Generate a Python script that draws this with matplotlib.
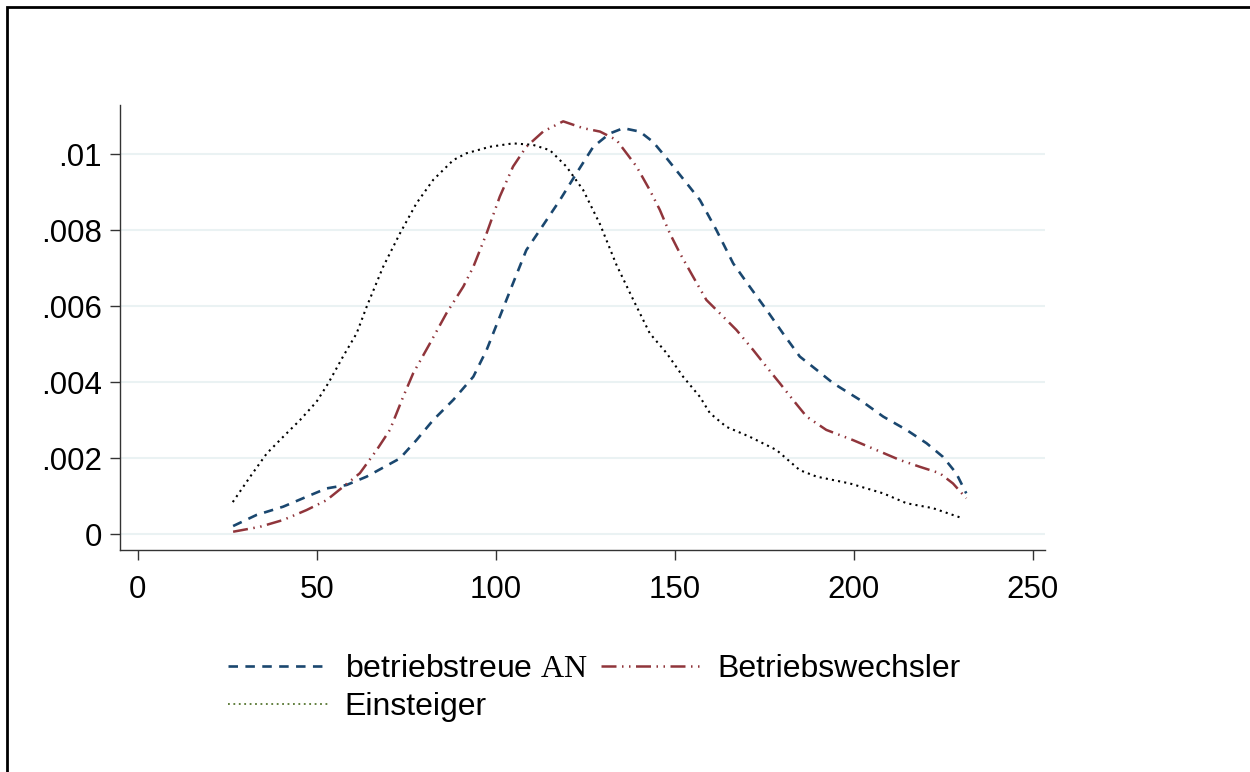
import matplotlib
matplotlib.use("Agg")
import matplotlib.pyplot as plt
from matplotlib.lines import Line2D
from matplotlib.patches import Rectangle

plt.rcParams['font.family'] = ['Liberation Sans', 'DejaVu Sans']
plt.rcParams['mathtext.fontset'] = 'custom'
plt.rcParams['mathtext.rm'] = 'Liberation Serif'

# kernel density estimates
x_treu = [26.6, 33.1, 40.6, 47.1, 52.7, 58.3, 63.9, 73.2, 77.8, 82.5, 88.1, 93.7,
          97.4, 101.1, 104.8, 108.5, 112.3, 117.9, 122.5, 127.2, 131.8, 135.6, 140.2,
          143.9, 147.7, 153.3, 157.0, 161.6, 166.3, 170.9, 175.6, 180.2, 184.9, 189.6,
          194.2, 201.7, 208.2, 214.7, 220.3, 224.9, 228.6, 231.4]
y_treu = [.00021, .0005, .00072, .00098, .0012, .00129, .00151, .00199, .00247, .003,
          .00353, .00414, .00484, .00572, .0066, .00747, .008, .00879, .00949, .01019,
          .01054, .01068, .01059, .01032, .00989, .00923, .00879, .008, .00712, .00651,
          .0059, .00528, .00467, .00432, .00397, .00353, .00309, .00274, .00239, .00203,
          .0016, .00107]

x_wechsler = [26.6, 34.1, 40.6, 47.1, 52.7, 57.3, 62.0, 66.7, 70.4, 74.1, 76.9, 81.6,
              86.2, 90.9, 93.7, 97.4, 101.1, 104.8, 108.5, 113.2, 118.8, 124.4, 129.1,
              133.7, 139.3, 143.0, 145.8, 148.6, 151.4, 155.1, 158.8, 163.5, 167.2,
              171.9, 175.6, 179.3, 183.0, 186.8, 192.3, 199.8, 206.3, 212.8, 218.4,
              224.0, 227.7, 231.4]
y_wechsler = [.00006, .00019, .00037, .00063, .00089, .00124, .0016, .00221, .00274,
              .00361, .00423, .00502, .00581, .00651, .00703, .00791, .00888, .00967,
              .01019, .01059, .01086, .01068, .01059, .01037, .00967, .00905, .00853,
              .00791, .00739, .00677, .00616, .00572, .00537, .00484, .0044, .00397,
              .00353, .00309, .00274, .00247, .00221, .00195, .00177, .0016, .00133,
              .00094]

x_einsteiger = [26.5, 31.3, 36.0, 40.6, 45.3, 49.9, 53.2, 57.3, 61.1, 63.9, 68.5, 73.2,
                77.8, 82.5, 88.1, 91.8, 98.3, 104.8, 110.4, 115.1, 119.7, 124.4, 129.1,
                133.7, 138.4, 143.0, 147.7, 152.3, 157.0, 159.8, 164.4, 170.9, 178.4,
                184.9, 189.6, 198.9, 208.2, 214.7, 222.1, 230.5]
y_einsteiger = [.00084, .0015, .00212, .00256, .003, .00348, .00397, .00467, .00528,
                .00598, .00703, .00791, .0087, .00932, .00984, .01002, .01019, .01028,
                .01024, .0101, .00967, .00905, .00815, .00708, .00616, .00528, .00476,
                .00414, .00361, .00318, .00282, .00256, .00221, .00168, .00151, .00133,
                .00107, .00081, .00068, .00041]

yticks = [0, .002, .004, .006, .008, .01]
ytick_labels = ['0', '.002', '.004', '.006', '.008', '.01']
xticks = [0, 50, 100, 150, 200, 250]

blue = '#1a476f'
red = '#90353b'
green = '#55752f'

ls_blue = (0, (3.6, 2.8))
ls_red = (0, (6, 2.2, 0.6, 2.2, 0.6, 2.2))
ls_dot = (0, (1, 2))

fig = plt.figure(figsize=(12.5, 7.72), dpi=100)
ax = fig.add_axes([0.096, 0.2876, 0.74, 0.5764])

ax.plot(x_treu, y_treu, color=blue, lw=1.9, linestyle=ls_blue)
ax.plot(x_wechsler, y_wechsler, color=red, lw=1.8, linestyle=ls_red)
ax.plot(x_einsteiger, y_einsteiger, color='black', lw=1.5, linestyle=ls_dot)

ax.set_xlim(-5, 253.4)
ax.set_ylim(-0.00042, 0.01129)
ax.set_yticks(yticks)
ax.set_yticklabels(ytick_labels)
ax.set_xticks(xticks)
ax.grid(axis='y', color='#eaf2f3', lw=1.5)
ax.set_axisbelow(True)
for s in ['top', 'right']:
    ax.spines[s].set_visible(False)
for s in ['left', 'bottom']:
    ax.spines[s].set_color('#333333')
    ax.spines[s].set_linewidth(1.0)
ax.tick_params(axis='both', labelsize=22.5, length=7, width=1, color='#333333')
ax.tick_params(axis='y', pad=6)
ax.tick_params(axis='x', pad=11)

handles = [
    Line2D([], [], color=blue, lw=1.9, linestyle=ls_blue),
    Line2D([], [], color=green, lw=1.3, linestyle=ls_dot),
    Line2D([], [], color=red, lw=1.8, linestyle=ls_red),
]
labels = [r'betriebstreue $\mathrm{AN}$', 'Einsteiger', 'Betriebswechsler']
fig.legend(handles, labels, ncol=2, frameon=False, fontsize=23,
           loc='upper left', bbox_to_anchor=(228 / 1250, 1 - 654 / 772),
           borderpad=0, borderaxespad=0, handlelength=3.15, handletextpad=0.5,
           columnspacing=0.4, labelspacing=0.25)

# outer frame (only top and left edges fall inside the image)
fig.add_artist(Rectangle((7 / 1250, -0.1), 1.2, 1 - 7 / 772 + 0.1,
                         transform=fig.transFigure, fill=False,
                         edgecolor='black', lw=2))

fig.savefig('out.png', dpi=100)
